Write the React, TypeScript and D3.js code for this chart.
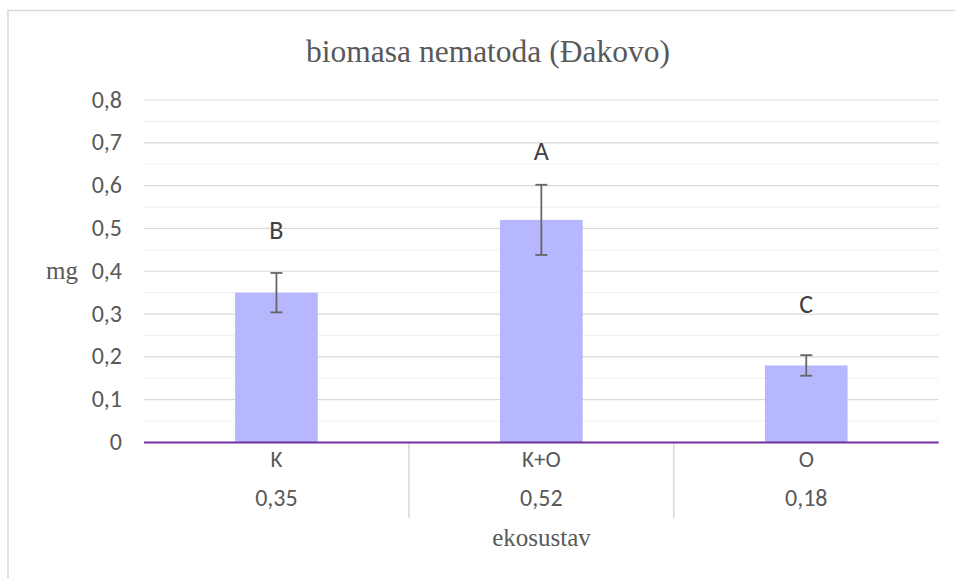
import React from "react";
import * as d3 from "d3";

const categories = ["K", "K+O", "O"];
const values = [0.35, 0.52, 0.18];
const valueLabels = ["0,35", "0,52", "0,18"];
const errors = [0.046, 0.082, 0.024];
const letters = ["B", "A", "C"];
const letterValues = [0.475, 0.661, 0.303];
const majorTicks = [0, 0.1, 0.2, 0.3, 0.4, 0.5, 0.6, 0.7, 0.8];
const minorTicks = [0.05, 0.15, 0.25, 0.35, 0.45, 0.55, 0.65, 0.75];
const title = "biomasa nematoda (Đakovo)";
const yTitle = "mg";
const xTitle = "ekosustav";

const W = 955;
const H = 578;
const plotLeft = 144;
const plotRight = 938.7;
const yBottom = 442.5;
const yTop = 100;

const sans = "Carlito, Calibri, Lato, 'Open Sans', sans-serif";
const serif = "'Liberation Serif', 'Times New Roman', serif";
const textColor = "#595959";

export default function App() {
  const x = d3.scaleBand<string>().domain(categories).range([plotLeft, plotRight]).padding(0);
  const y = d3.scaleLinear().domain([0, 0.8]).range([yBottom, yTop]);
  const barW = x.bandwidth() * 0.312;
  const fmt = (v: number) => (v === 0 ? "0" : d3.format(".1f")(v).replace(".", ","));

  return (
    <svg width={W} height={H} style={{ position: "absolute", left: 0, top: 0 }}>
      <rect x={0} y={0} width={W} height={H} fill="#fff" />
      <path d={`M8,${H + 5} V10.5 H${W + 5}`} fill="none" stroke="#d9d9d9" strokeWidth={1.5} />
      <text x={488} y={61.5} textAnchor="middle" fontFamily={serif} fontSize={31.5} fill={textColor}>
        {title}
      </text>
      {minorTicks.map((t) => (
        <line key={"mi" + t} x1={plotLeft} x2={plotRight} y1={y(t)} y2={y(t)} stroke="#f2f2f2" strokeWidth={1.2} />
      ))}
      {majorTicks.slice(1).map((t) => (
        <line key={"ma" + t} x1={plotLeft} x2={plotRight} y1={y(t)} y2={y(t)} stroke="#d9d9d9" strokeWidth={1.2} />
      ))}
      {majorTicks.map((t) => (
        <text key={"tl" + t} x={122} y={y(t) + 7.5} textAnchor="end" fontFamily={sans} fontSize={24} fill={textColor}>
          {fmt(t)}
        </text>
      ))}
      {categories.map((c, i) => {
        const cx = (x(c) as number) + x.bandwidth() / 2;
        return (
          <g key={c}>
            <rect x={cx - barW / 2} y={y(values[i])} width={barW} height={y(0) - y(values[i])} fill="#b7b7fd" />
            <line x1={cx} x2={cx} y1={y(values[i] + errors[i])} y2={y(values[i] - errors[i])} stroke="#666" strokeWidth={1.8} />
            <line x1={cx - 6} x2={cx + 6} y1={y(values[i] + errors[i])} y2={y(values[i] + errors[i])} stroke="#666" strokeWidth={1.8} />
            <line x1={cx - 6} x2={cx + 6} y1={y(values[i] - errors[i])} y2={y(values[i] - errors[i])} stroke="#666" strokeWidth={1.8} />
            <text x={cx} y={y(letterValues[i])} textAnchor="middle" fontFamily={sans} fontSize={26} fill="#404040">
              {letters[i]}
            </text>
            <text x={cx} y={467.3} textAnchor="middle" fontFamily={sans} fontSize={23} fill={textColor}>
              {c}
            </text>
            <text x={cx} y={505.5} textAnchor="middle" fontFamily={sans} fontSize={24} fill={textColor}>
              {valueLabels[i]}
            </text>
          </g>
        );
      })}
      {categories.slice(1).map((c) => (
        <line key={"sep" + c} x1={x(c) as number} x2={x(c) as number} y1={yBottom} y2={518} stroke="#d9d9d9" strokeWidth={1.5} />
      ))}
      <line x1={plotLeft} x2={plotRight} y1={yBottom} y2={yBottom} stroke="#7030a0" strokeWidth={2} />
      <text x={62} y={279} textAnchor="middle" fontFamily={serif} fontSize={25} fill={textColor}>
        {yTitle}
      </text>
      <text x={541.5} y={546} textAnchor="middle" fontFamily={serif} fontSize={25} fill={textColor}>
        {xTitle}
      </text>
    </svg>
  );
}
